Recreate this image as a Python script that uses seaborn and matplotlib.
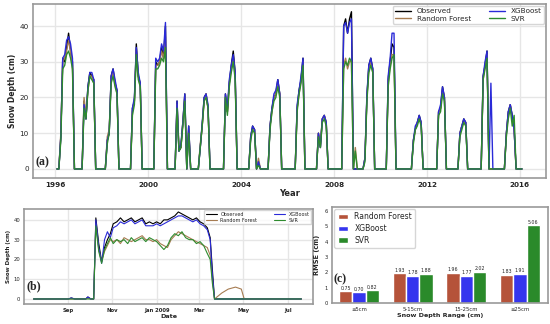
import pandas as pd
import matplotlib.pyplot as plt
import matplotlib.dates as mdates
import seaborn as sns

sns.set_theme(style="whitegrid")
plt.rcParams['font.family'] = ['DejaVu Sans']
plt.rcParams['axes.edgecolor'] = '0.6'
plt.rcParams['axes.linewidth'] = 1.2
plt.rcParams['grid.color'] = '0.9'

# ---- (a) seasonal snow depth, monthly values ----
# month index counted from Jan 1996 where each season starts
season_start = [1, 14, 26, 39, 51, 62, 74, 87, 100, 110,
                124, 135, 148, 159, 171, 184, 197, 208, 220, 232]

obs_seasons = [
    [0, 0, 9, 31, 30, 34, 38, 33, 30, 0],
    [0, 19, 14, 23, 27, 26, 25, 0],
    [0, 8, 10, 26, 28, 24, 22, 0],
    [0, 17, 19, 35, 26, 24, 0],
    [0, 30, 29, 30, 34, 31, 40, 0],
    [0, 19, 5, 6, 13, 21, 0, 12, 0],
    [0, 6, 12, 20, 21, 17, 0],
    [0, 21, 16, 24, 29, 33, 27, 0],
    [0, 9, 12, 11, 0, 2, 0],
    [0, 12, 17, 20, 21, 25, 21, 0],
    [0, 17, 22, 25, 31, 0],
    [0, 10, 6, 14, 15, 13, 0],
    [0, 40, 42, 38, 42, 44, 0, 0, 0],
    [0, 3, 20, 29, 31, 28, 0],
    [0, 25, 30, 35, 34, 0],
    [0, 8, 11, 13, 15, 13, 0],
    [0, 16, 17, 23, 20, 0],
    [0, 10, 12, 14, 13, 0],
    [0, 26, 29, 33, 0, 0, 0],
    [0, 10, 16, 18, 15, 11, 0, 0, 0, 0],
]
rf_seasons = [
    [0, 0, 10, 30, 31, 33, 36, 33, 29, 0],
    [0, 20, 15, 22, 26, 26, 24, 0],
    [0, 9, 11, 25, 27, 24, 21, 0],
    [0, 16, 19, 33, 26, 23, 0],
    [0, 29, 29, 30, 33, 31, 37, 0],
    [0, 18, 6, 6, 13, 20, 0, 11, 0],
    [0, 7, 12, 19, 21, 17, 0],
    [0, 20, 16, 24, 28, 31, 26, 0],
    [0, 9, 11, 11, 0, 3, 0],
    [0, 12, 16, 20, 21, 24, 21, 0],
    [0, 17, 21, 25, 30, 0],
    [0, 10, 7, 14, 15, 13, 0],
    [0, 29, 31, 28, 30, 30, 0, 6, 0],
    [0, 3, 20, 28, 30, 27, 0],
    [0, 24, 29, 32, 32, 0],
    [0, 8, 11, 13, 14, 13, 0],
    [0, 16, 17, 22, 20, 0],
    [0, 10, 12, 13, 13, 0],
    [0, 25, 29, 32, 0, 0, 0],
    [0, 10, 15, 18, 14, 11, 0, 0, 0, 0],
]
xgb_seasons = [
    [0, 0, 9, 31, 32, 36, 37, 35, 31, 0],
    [0, 18, 14, 23, 27, 27, 25, 0],
    [0, 8, 10, 26, 28, 25, 22, 0],
    [0, 17, 20, 34, 27, 24, 0],
    [0, 31, 30, 31, 35, 33, 41, 0],
    [0, 19, 5, 7, 13, 21, 0, 12, 0],
    [0, 6, 13, 20, 21, 18, 0],
    [0, 21, 17, 25, 29, 32, 27, 0],
    [0, 9, 12, 11, 0, 2, 0],
    [0, 12, 17, 21, 22, 25, 21, 0],
    [0, 18, 22, 26, 31, 0],
    [0, 10, 6, 14, 15, 13, 0],
    [0, 40, 41, 38, 41, 42, 0, 0, 0],
    [0, 3, 21, 29, 31, 28, 0],
    [0, 26, 31, 38, 38, 0],
    [0, 8, 12, 13, 15, 13, 0],
    [0, 16, 18, 23, 20, 0],
    [0, 10, 12, 14, 13, 0],
    [0, 26, 30, 33, 0, 24, 0],
    [0, 10, 16, 18, 15, 11, 0, 0, 0, 0],
]
svr_seasons = [
    [0, 0, 8, 28, 29, 32, 33, 31, 28, 0],
    [0, 17, 14, 22, 26, 25, 24, 0],
    [0, 7, 10, 24, 26, 23, 21, 0],
    [0, 15, 18, 32, 25, 23, 0],
    [0, 28, 28, 29, 31, 30, 34, 0],
    [0, 17, 5, 6, 12, 19, 0, 10, 0],
    [0, 6, 12, 19, 20, 17, 0],
    [0, 20, 15, 23, 27, 30, 25, 0],
    [0, 8, 11, 10, 0, 1, 0],
    [0, 11, 16, 19, 20, 23, 20, 0],
    [0, 16, 21, 24, 29, 0],
    [0, 9, 6, 13, 14, 12, 0],
    [0, 28, 30, 29, 31, 30, 0, 5, 0],
    [0, 2, 19, 27, 29, 27, 0],
    [0, 23, 28, 31, 32, 0],
    [0, 7, 11, 12, 14, 12, 0],
    [0, 15, 16, 21, 19, 0],
    [0, 9, 11, 13, 12, 0],
    [0, 25, 28, 31, 0, 0, 0],
    [0, 9, 14, 17, 12, 15, 0, 0, 0, 0],
]

# ---- (b) 2008-2009 season ----
dates_b = ["2008-07-15", "2008-09-01", "2008-09-05", "2008-09-10", "2008-09-25",
           "2008-09-28", "2008-10-02", "2008-10-06", "2008-10-09", "2008-10-13",
           "2008-10-17", "2008-10-21", "2008-10-25", "2008-10-29", "2008-11-02",
           "2008-11-07", "2008-11-12", "2008-11-17", "2008-11-22", "2008-11-27",
           "2008-12-02", "2008-12-07", "2008-12-12", "2008-12-17", "2008-12-22",
           "2008-12-27", "2009-01-01", "2009-01-06", "2009-01-11", "2009-01-16",
           "2009-01-21", "2009-01-26", "2009-01-31", "2009-02-05", "2009-02-10",
           "2009-02-15", "2009-02-20", "2009-02-25", "2009-03-02", "2009-03-07",
           "2009-03-12", "2009-03-16", "2009-03-19", "2009-03-22", "2009-04-01",
           "2009-04-10", "2009-04-20", "2009-04-28", "2009-05-02", "2009-07-20"]
obs_b = [0, 0, 0.5, 0, 0, 1, 0, 0, 41, 28, 19, 26, 30, 33, 38, 39, 41, 39, 40, 41,
         39, 40, 41, 38, 39, 38, 39, 38, 40, 40, 41, 42, 44, 43, 42, 41, 40, 41, 39, 38,
         36, 31, 15, 0, 0, 0, 0, 0, 0, 0]
rf_b = [0, 0, 0, 0, 0, 0.5, 0, 0, 38, 25, 19, 24, 27, 30, 29, 30, 28, 31, 30, 29,
        30, 31, 32, 30, 30, 29, 30, 28, 27, 26, 30, 32, 34, 33, 32, 31, 30, 29, 28, 27,
        26, 22, 10, 0, 3, 5, 6, 5, 0, 0]
xgb_b = [0, 0, 0.5, 0, 0, 1, 0, 0, 40, 26, 18, 30, 34, 31, 36, 37, 39, 38, 39, 40,
         38, 39, 40, 37, 37, 37, 38, 37, 38, 39, 40, 41, 42, 42, 41, 40, 39, 40, 38, 37,
         35, 30, 12, 0, 0, 0, 0, 0, 0, 0]
svr_b = [0, 0, 0, 0, 0, 0, 0, 0, 37, 24, 18, 25, 28, 31, 28, 30, 29, 30, 28, 31,
         29, 30, 31, 29, 31, 30, 29, 27, 25, 27, 31, 33, 32, 34, 31, 30, 30, 28, 29, 27,
         23, 20, 8, 0, 0, 0, 0, 0, 0, 0]

# ---- (c) RMSE by depth range ----
ranges = ["≤5cm", "5-15cm", "15-25cm", "≥25cm"]
rmse_rf = [0.75, 1.93, 1.96, 1.83]
rmse_xgb = [0.70, 1.78, 1.77, 1.91]
rmse_svr = [0.82, 1.88, 2.02, 5.06]

models = ["Observed", "Random Forest", "XGBoost", "SVR"]
line_colors = {"Observed": "black", "Random Forest": "#a67c52",
               "XGBoost": "#2a2ad8", "SVR": "#2e8b2e"}
bar_colors = {"Random Forest": "#b5533a", "XGBoost": "#3535ee", "SVR": "#2a8a2a"}

# long table for the time series
base = pd.Timestamp("1996-01-01")
rows = []
for name, seasons in zip(models, [obs_seasons, rf_seasons, xgb_seasons, svr_seasons]):
    for m0, vals in zip(season_start, seasons):
        for i, v in enumerate(vals):
            rows.append((base + pd.DateOffset(months=m0 + i), v, name))
ts = pd.DataFrame(rows, columns=["date", "depth", "model"])

season_b = pd.DataFrame({
    "date": pd.to_datetime(dates_b * 4),
    "depth": obs_b + rf_b + xgb_b + svr_b,
    "model": sum([[m] * len(dates_b) for m in models], []),
})

rmse = pd.DataFrame({
    "range": ranges * 3,
    "rmse": rmse_rf + rmse_xgb + rmse_svr,
    "model": ["Random Forest"] * 4 + ["XGBoost"] * 4 + ["SVR"] * 4,
})

fig = plt.figure(figsize=(5.5, 3.24), dpi=100)
ax1 = fig.add_axes([0.060, 0.451, 0.933, 0.537])
ax2 = fig.add_axes([0.044, 0.062, 0.525, 0.293])
ax3 = fig.add_axes([0.604, 0.065, 0.392, 0.296])

# (a)
sns.lineplot(data=ts, x="date", y="depth", hue="model", hue_order=models,
             palette=line_colors, estimator=None, lw=1.0, ax=ax1)
ax1.set_xlim(pd.Timestamp("1995-01-20"), pd.Timestamp("2017-02-15"))
ax1.set_ylim(-2.5, 46.2)
ax1.set_yticks([0, 10, 20, 30, 40])
ax1.xaxis.set_major_locator(mdates.YearLocator(4))
ax1.xaxis.set_major_formatter(mdates.DateFormatter("%Y"))
ax1.tick_params(axis="both", labelsize=5.2, pad=3, length=0)
for t in ax1.get_xticklabels():
    t.set_fontweight("bold")
ax1.set_xlabel("Year", fontsize=6, fontweight="bold", labelpad=1)
ax1.set_ylabel("Snow Depth (cm)", fontsize=5.5, fontweight="bold", labelpad=2)
ax1.legend(ncol=2, loc="upper right", fontsize=5.2, frameon=True,
           handlelength=2.2, columnspacing=2.5, borderpad=0.3, labelspacing=0.2,
           borderaxespad=0.3)
ax1.text(0.004, 0.09, "(a)", transform=ax1.transAxes, fontsize=8.5,
         fontweight="bold", family="Liberation Serif", ha="left", va="center")

# (b)
sns.lineplot(data=season_b, x="date", y="depth", hue="model", hue_order=models,
             palette=line_colors, estimator=None, lw=0.8, ax=ax2)
ax2.set_xlim(pd.Timestamp("2008-07-02"), pd.Timestamp("2009-08-05"))
ax2.set_ylim(-2.5, 45.5)
ax2.set_yticks([0, 10, 20, 30, 40])
tick_dates = pd.to_datetime(["2008-09-01", "2008-11-01", "2009-01-01",
                             "2009-03-01", "2009-05-01", "2009-07-01"])
ax2.set_xticks(tick_dates)
ax2.set_xticklabels(["Sep", "Nov", "Jan 2009", "Mar", "May", "Jul"],
                    fontsize=3.8, fontweight="bold")
ax2.tick_params(axis="both", labelsize=3.8, pad=3, length=0)
ax2.set_xlabel("Date", fontsize=4.6, fontweight="bold", labelpad=1)
ax2.set_ylabel("Snow Depth (cm)", fontsize=4, fontweight="bold", labelpad=2)
ax2.legend(ncol=2, loc="upper right", fontsize=3.5, frameon=True,
           handlelength=2.2, columnspacing=3.5, borderpad=0.3, labelspacing=0.2,
           borderaxespad=0.3)
ax2.text(0.007, 0.19, "(b)", transform=ax2.transAxes, fontsize=8.5,
         fontweight="bold", family="Liberation Serif", ha="left", va="center")

# (c)
sns.barplot(data=rmse, x="range", y="rmse", hue="model",
            hue_order=["Random Forest", "XGBoost", "SVR"], palette=bar_colors,
            width=0.75, saturation=1, ax=ax3)
for cont in ax3.containers:
    ax3.bar_label(cont, fmt="%.2f", fontsize=3.4, padding=0.5)
ax3.grid(False)
ax3.set_xlim(-0.5, 3.52)
ax3.set_ylim(0, 6.25)
ax3.tick_params(axis="both", labelsize=3.8, pad=3, length=0)
ax3.set_xlabel("Snow Depth Range (cm)", fontsize=4.6, fontweight="bold", labelpad=1)
ax3.set_ylabel("RMSE (cm)", fontsize=4.8, fontweight="bold", labelpad=3)
ax3.legend(loc="upper left", fontsize=5.5, frameon=True, handlelength=1.4,
           borderpad=0.4, labelspacing=0.35, borderaxespad=0.3)
ax3.text(0.005, 0.25, "(c)", transform=ax3.transAxes, fontsize=8.5,
         fontweight="bold", family="Liberation Serif", ha="left", va="center")

fig.savefig("out.png", dpi=100)
